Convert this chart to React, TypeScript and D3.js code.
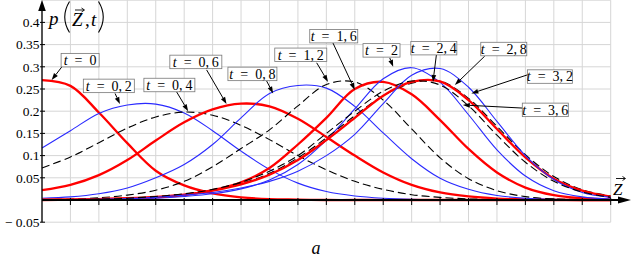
import React from "react";
import * as d3 from "d3";

// ---- data ----
const zValues = [0, 1, 2, 3, 4, 5, 6, 7, 8, 9, 10, 11, 12, 13, 14, 15, 16, 17, 18, 19, 20];

const timeLabels = ["0", "0,\u20092", "0,\u20094", "0,\u20096", "0,\u20098", "1,\u20092", "1,\u20096", "2", "2,\u20094", "2,\u20098", "3,\u20092", "3,\u20096"];

const p_t00 = [0.270, 0.257, 0.197, 0.128, 0.066, 0.033, 0.015, 0.006, 0.002, 0.001, 0, 0, 0, 0, 0, 0, 0, 0, 0, 0, 0];
const p_t02 = [0.117, 0.156, 0.195, 0.214, 0.216, 0.196, 0.156, 0.110, 0.069, 0.038, 0.019, 0.009, 0.004, 0.0015, 0.0006, 0.0002, 0, 0, 0, 0, 0];
const p_t04 = [0.072, 0.097, 0.129, 0.162, 0.187, 0.198, 0.191, 0.168, 0.136, 0.100, 0.068, 0.042, 0.024, 0.012, 0.006, 0.0025, 0.001, 0, 0, 0, 0];
const p_t06 = [0.022, 0.034, 0.056, 0.090, 0.134, 0.175, 0.204, 0.217, 0.211, 0.183, 0.142, 0.100, 0.062, 0.034, 0.017, 0.008, 0.0033, 0.0012, 0.0004, 0, 0];
const p_t08 = [0.004, 0.007, 0.014, 0.027, 0.050, 0.080, 0.125, 0.185, 0.240, 0.258, 0.252, 0.211, 0.151, 0.093, 0.049, 0.024, 0.010, 0.004, 0.0015, 0.0005, 0];
const p_t12 = [0.001, 0.002, 0.005, 0.011, 0.022, 0.042, 0.075, 0.116, 0.158, 0.212, 0.260, 0.266, 0.225, 0.160, 0.095, 0.048, 0.021, 0.0076, 0.0025, 0.0008, 0.0002];
const p_t16 = [0, 0.001, 0.002, 0.003, 0.006, 0.011, 0.022, 0.040, 0.072, 0.125, 0.185, 0.250, 0.266, 0.238, 0.180, 0.115, 0.062, 0.028, 0.011, 0.004, 0.001];
const p_t20 = [0, 0.001, 0.001, 0.002, 0.004, 0.008, 0.014, 0.025, 0.045, 0.080, 0.135, 0.205, 0.273, 0.298, 0.265, 0.192, 0.113, 0.054, 0.021, 0.007, 0.002];
const p_t24 = [0.001, 0.001, 0.002, 0.004, 0.007, 0.013, 0.022, 0.037, 0.060, 0.095, 0.140, 0.190, 0.235, 0.263, 0.268, 0.229, 0.166, 0.102, 0.053, 0.023, 0.009];
const p_t28 = [0.001, 0.001, 0.002, 0.004, 0.007, 0.012, 0.021, 0.035, 0.057, 0.090, 0.135, 0.185, 0.235, 0.266, 0.267, 0.225, 0.160, 0.096, 0.048, 0.021, 0.0075];
const p_t32 = [0.001, 0.001, 0.0015, 0.003, 0.006, 0.011, 0.017, 0.027, 0.042, 0.065, 0.100, 0.148, 0.217, 0.281, 0.296, 0.254, 0.177, 0.100, 0.046, 0.017, 0.006];
const p_t36 = [0.001, 0.001, 0.002, 0.004, 0.008, 0.014, 0.024, 0.040, 0.065, 0.100, 0.150, 0.200, 0.245, 0.268, 0.259, 0.212, 0.146, 0.085, 0.042, 0.018, 0.006];

const seriesValues = [p_t00, p_t02, p_t04, p_t06, p_t08, p_t12, p_t16, p_t20, p_t24, p_t28, p_t32, p_t36];

const yTickValues = [-0.05, 0.05, 0.1, 0.15, 0.2, 0.25, 0.3, 0.35, 0.4];
const yTickLabels = ["\u2212 0.05", "0.05", "0.1", "0.15", "0.2", "0.25", "0.3", "0.35", "0.4"];
const yGridValues = [-0.05, 0, 0.05, 0.1, 0.15, 0.2, 0.25, 0.3, 0.35, 0.4, 0.45];

// annotation layout in data coordinates: box centre, arrow start, arrow tip
const annotations = [
  { box: [1.34, 0.315], w: 38, from: [0.70, 0.300], to: [0.34, 0.270] },
  { box: [2.35, 0.257], w: 51, from: [2.57, 0.240], to: [2.74, 0.216] },
  { box: [4.48, 0.259], w: 51, from: [4.73, 0.244], to: [5.14, 0.200] },
  { box: [5.41, 0.311], w: 52, from: [5.79, 0.293], to: [6.49, 0.216] },
  { box: [7.40, 0.284], w: 49, from: [7.90, 0.268], to: [8.13, 0.240] },
  { box: [9.10, 0.327], w: 52, from: [9.66, 0.309], to: [10.06, 0.266] },
  { box: [10.26, 0.369], w: 48, from: [10.23, 0.354], to: [11.0, 0.248] },
  { box: [11.94, 0.337], w: 37, from: [12.23, 0.320], to: [12.35, 0.300] },
  { box: [13.78, 0.342], w: 46, from: [13.87, 0.327], to: [13.75, 0.266] },
  { box: [16.24, 0.340], w: 46, from: [15.57, 0.324], to: [14.52, 0.259] },
  { box: [17.86, 0.278], w: 45, from: [17.08, 0.282], to: [15.10, 0.240] },
  { box: [17.70, 0.203], w: 46, from: [16.91, 0.207], to: [14.80, 0.214] },
];

const styles = [
  { stroke: "#ff0000", width: 2.3, dash: undefined },
  { stroke: "#2a2aff", width: 1.1, dash: undefined },
  { stroke: "#000000", width: 1.1, dash: "8,4" },
];

const FONT = "'Liberation Serif', 'Times New Roman', Times, serif";

function Arrow({ x1, y1, x2, y2 }: { x1: number; y1: number; x2: number; y2: number }) {
  const a = Math.atan2(y2 - y1, x2 - x1);
  const len = 7, hw = 2.4;
  const bx = x2 - len * Math.cos(a), by = y2 - len * Math.sin(a);
  const p1 = [bx + hw * Math.sin(a), by - hw * Math.cos(a)];
  const p2 = [bx - hw * Math.sin(a), by + hw * Math.cos(a)];
  return (
    <g>
      <line x1={x1} y1={y1} x2={bx} y2={by} stroke="#000" strokeWidth={1} />
      <polygon points={`${x2},${y2} ${p1[0]},${p1[1]} ${p2[0]},${p2[1]}`} fill="#000" />
    </g>
  );
}

export default function App() {
  const x = d3.scaleLinear().domain([0, 20]).range([42, 610.7]);
  const y = d3.scaleLinear().domain([0, 0.4]).range([200, 22.4]);

  const line = d3
    .line<number>()
    .x((_, i) => x(zValues[i]))
    .y((d) => y(d))
    .curve(d3.curveCatmullRom.alpha(0.5));

  const x0 = x(0);
  const y0 = y(0);
  const gridTop = y(0.45);
  const gridBottom = y(-0.05);
  const xRight = x(20);

  return (
    <svg
      width={632}
      height={258}
      style={{ position: "fixed", left: 0, top: 0, background: "#fff", fontFamily: FONT }}
    >
      <rect x={0} y={0} width={632} height={258} fill="#fff" />
      {/* grid */}
      <g stroke="#d6d6d6" strokeWidth={1}>
        {zValues.map((z) => (
          <line key={"gv" + z} x1={x(z)} x2={x(z)} y1={gridTop} y2={gridBottom} />
        ))}
        {yGridValues.map((v) => (
          <line key={"gh" + v} x1={x0} x2={xRight} y1={y(v)} y2={y(v)} />
        ))}
      </g>

      {/* curves */}
      <g fill="none">
        {seriesValues.map((vals, i) => {
          const s = styles[i % 3];
          return (
            <path
              key={"c" + i}
              d={line(vals) || ""}
              stroke={s.stroke}
              strokeWidth={s.width}
              strokeDasharray={s.dash}
              strokeLinejoin="round"
            />
          );
        })}
      </g>

      {/* axes */}
      <g stroke="#000">
        <line x1={x0} x2={621} y1={y0} y2={y0} strokeWidth={1.8} />
        <line x1={x0} x2={x0} y1={gridBottom} y2={9} strokeWidth={1.3} />
        {zValues.slice(1).map((z) => (
          <line key={"xt" + z} x1={x(z)} x2={x(z)} y1={y0 - 2} y2={y0 + 5} strokeWidth={1} />
        ))}
        {yTickValues.map((v) => (
          <line key={"yt" + v} x1={x0 - 2} x2={x0 + 3} y1={y(v)} y2={y(v)} strokeWidth={1} />
        ))}
      </g>
      <polygon points={`631,${y0} 618,${y0 - 3.5} 618,${y0 + 3.5}`} fill="#000" />
      <polygon points={`${x0},0 ${x0 - 3.8},11 ${x0 + 3.8},11`} fill="#000" />

      {/* y tick labels */}
      <g fontSize={13.5} textAnchor="end" fill="#000" style={{ fontFamily: FONT }}>
        {yTickValues.map((v, i) => (
          <text key={"yl" + v} x={39.5} y={y(v)} dy="0.35em" style={{ whiteSpace: "pre", fontFamily: FONT }}>
            {yTickLabels[i]}
          </text>
        ))}
      </g>

      {/* axis title p(Z,t) */}
      <g fill="#000" style={{ fontFamily: FONT }}>
        <text x={49} y={25} fontSize={19} fontStyle="italic">p</text>
        <path d="M69.5,1.5 Q60,17 69.5,32.5" fill="none" stroke="#000" strokeWidth={1.1} />
        <text x={72} y={26} fontSize={19} fontStyle="italic">Z</text>
        <line x1={75} x2={84} y1={10} y2={10} stroke="#000" strokeWidth={0.9} />
        <path d="M81.5,8 L84.5,10 L81.5,12" fill="none" stroke="#000" strokeWidth={0.9} />
        <text x={85} y={26} fontSize={19}>,</text>
        <text x={91} y={26} fontSize={19} fontStyle="italic">t</text>
        <path d="M98.5,1.5 Q108,17 98.5,32.5" fill="none" stroke="#000" strokeWidth={1.1} />
      </g>

      {/* Z axis label */}
      <g fill="#000" style={{ fontFamily: FONT }}>
        <text x={613} y={195} fontSize={17} fontStyle="italic">Z</text>
        <line x1={616} x2={625} y1={178.5} y2={178.5} stroke="#000" strokeWidth={0.9} />
        <path d="M622.5,176.5 L625.5,178.5 L622.5,180.5" fill="none" stroke="#000" strokeWidth={0.9} />
      </g>

      {/* annotations */}
      {annotations.map((a, i) => {
        const cx = x(a.box[0]);
        const cy = y(a.box[1]);
        const h = 13.5;
        return (
          <g key={"an" + i}>
            <Arrow x1={x(a.from[0])} y1={y(a.from[1])} x2={x(a.to[0])} y2={y(a.to[1])} />
            <rect x={cx - a.w / 2} y={cy - h / 2} width={a.w} height={h} fill="#fff" stroke="#777" strokeWidth={0.8} />
            <text x={cx} y={cy} dy="0.35em" textAnchor="middle" fontSize={14} fill="#000" style={{ whiteSpace: "pre", fontFamily: FONT }}>
              <tspan fontStyle="italic">t</tspan>
              <tspan>{"\u2002=\u2002" + timeLabels[i]}</tspan>
            </text>
          </g>
        );
      })}

      {/* caption */}
      <text x={316} y={253.5} fontSize={18} fontStyle="italic" textAnchor="middle" fill="#000" style={{ fontFamily: FONT }}>a</text>
    </svg>
  );
}
